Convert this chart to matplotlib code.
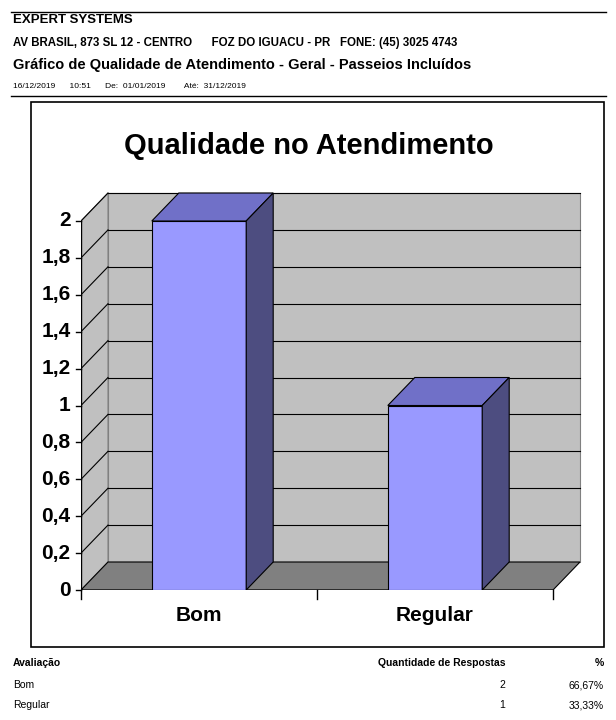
import matplotlib
matplotlib.use("Agg")
import matplotlib.pyplot as plt
from matplotlib.patches import Polygon, Rectangle
from matplotlib.lines import Line2D

plt.rcParams['font.family'] = ['Liberation Sans', 'DejaVu Sans']

categories = ["Bom", "Regular"]
values = [2, 1]
percent = ["66,67%", "33,33%"]
yticks = [0, 0.2, 0.4, 0.6, 0.8, 1, 1.2, 1.4, 1.6, 1.8, 2]
ytick_labels = ["0", "0,2", "0,4", "0,6", "0,8", "1", "1,2", "1,4", "1,6", "1,8", "2"]

W, H = 616, 720
fig = plt.figure(figsize=(W/100, H/100), dpi=100)

def fx(px): return px / W
def fy(py): return 1 - py / H

# header
fig.add_artist(Line2D([fx(11), fx(606)], [fy(12), fy(12)], color='black', lw=1))
fig.add_artist(Line2D([fx(11), fx(606)], [fy(96), fy(96)], color='black', lw=1))
fig.text(fx(13), fy(20), "EXPERT SYSTEMS", fontsize=9.5, weight='bold', va='center')
fig.text(fx(13), fy(43), "AV BRASIL, 873 SL 12 - CENTRO      FOZ DO IGUACU - PR   FONE: (45) 3025 4743",
         fontsize=8.3, weight='bold', va='center')
fig.text(fx(13), fy(65), "Gráfico de Qualidade de Atendimento - Geral - Passeios Incluídos",
         fontsize=10.5, weight='bold', va='center')
fig.text(fx(13), fy(87), "16/12/2019      10:51      De:  01/01/2019        Até:  31/12/2019",
         fontsize=6, va='center')

# frame
fig.add_artist(Rectangle((fx(31), fy(647)), fx(604) - fx(31), fy(102) - fy(647),
                         fill=False, edgecolor='black', lw=1.2))
fig.text(fx(309), fy(146), "Qualidade no Atendimento", fontsize=21, weight='bold',
         ha='center', va='center')

# chart axes: pixel mapping
x0, x1 = 81, 583
y0, y1 = 590, 190
ax = fig.add_axes([fx(x0), fy(y0), fx(x1) - fx(x0), fy(y1) - fy(y0)])
sx = 236.0
sy = 184.5
ax.set_xlim(0, (x1 - x0) / sx)
ax.set_ylim(0, (y0 - y1) / sy)
ax.axis('off')
dx, dy = 27 / sx, 28 / sy
ymax = 2.0
n = len(categories)

# walls
ax.add_patch(Polygon([(dx, dy), (n + dx, dy), (n + dx, ymax + dy), (dx, ymax + dy)],
                     closed=True, facecolor='#c0c0c0', edgecolor='#808080', lw=0.8, zorder=1))
ax.add_patch(Polygon([(0, 0), (dx, dy), (dx, ymax + dy), (0, ymax)],
                     closed=True, facecolor='#c0c0c0', edgecolor='#808080', lw=0.8, zorder=1))
ax.add_patch(Polygon([(0, 0), (n, 0), (n + dx, dy), (dx, dy)],
                     closed=True, facecolor='#808080', edgecolor='black', lw=0.8, zorder=2))
for v in yticks[1:]:
    ax.plot([dx, n + dx], [v + dy, v + dy], color='black', lw=0.8, zorder=1.5)
    ax.plot([0, dx], [v, v + dy], color='black', lw=0.8, zorder=1.5)

# axis line and ticks
ax.plot([0, 0], [0, ymax], color='black', lw=1, zorder=3)
ax.plot([0, n], [0, 0], color='black', lw=1, zorder=3)
for v, lab in zip(yticks, ytick_labels):
    ax.plot([-0.02, 0], [v, v], color='black', lw=1, zorder=3, clip_on=False)
    ax.text(-0.045, v, lab, ha='right', va='center', fontsize=15, weight='bold')
for i in range(n + 1):
    ax.plot([i, i], [0, -0.05], color='black', lw=1, zorder=3, clip_on=False)
for i, c in enumerate(categories):
    ax.text(i + 0.5, -0.14, c, ha='center', va='center', fontsize=15, weight='bold')

# bars
bw = 0.4
for i, v in enumerate(values):
    l, r = i + 0.5 - bw / 2, i + 0.5 + bw / 2
    ax.add_patch(Polygon([(l, 0), (r, 0), (r, v), (l, v)], closed=True,
                         facecolor='#9999ff', edgecolor='black', lw=0.8, zorder=4))
    ax.add_patch(Polygon([(l, v), (r, v), (r + dx, v + dy), (l + dx, v + dy)], closed=True,
                         facecolor='#7070c8', edgecolor='black', lw=0.8, zorder=4))
    ax.add_patch(Polygon([(r, 0), (r + dx, dy), (r + dx, v + dy), (r, v)], closed=True,
                         facecolor='#4d4d80', edgecolor='black', lw=0.8, zorder=4))

# table
fig.text(fx(13), fy(663), "Avaliação", fontsize=7.5, weight='bold', va='center')
fig.text(fx(505), fy(663), "Quantidade de Respostas", fontsize=7.5, weight='bold', va='center', ha='right')
fig.text(fx(604), fy(663), "%", fontsize=7.5, weight='bold', va='center', ha='right')
for k, (c, v, p) in enumerate(zip(categories, values, percent)):
    yy = 685 + k * 20
    fig.text(fx(13), fy(yy), c, fontsize=7.5, va='center')
    fig.text(fx(505), fy(yy), str(v), fontsize=7.5, va='center', ha='right')
    fig.text(fx(604), fy(yy), p, fontsize=7.5, va='center', ha='right')

fig.savefig("out.png", dpi=100, facecolor='white')
